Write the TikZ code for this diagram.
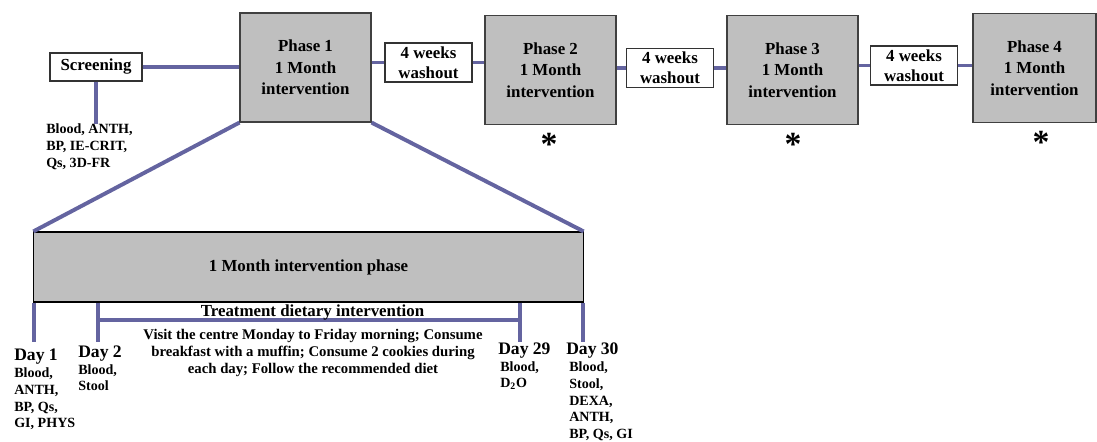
\documentclass[tikz,border=0pt]{standalone}
\usepackage{fontspec}
\setmainfont{Liberation Serif}
\definecolor{linkblue}{RGB}{100,100,160}
\definecolor{phasegray}{RGB}{191,191,191}
\usetikzlibrary{positioning}

\begin{document}
\begin{tikzpicture}[x=0.025cm, y=-0.025cm,
    phase/.style={draw=black!75, line width=0.8pt, fill=phasegray, minimum width=3.275cm, minimum height=2.725cm, align=center, font=\fontsize{12}{15.2}\selectfont\bfseries},
    washout/.style={draw=black!80, line width=0.8pt, fill=white, minimum width=2.175cm, minimum height=0.975cm, inner sep=0pt, align=center, font=\fontsize{12}{14}\selectfont\bfseries},
    link/.style={draw=linkblue, line width=2.8pt},
    note/.style={inner sep=0pt, align=left, font=\fontsize{10}{11.9}\selectfont\bfseries},
    daylab/.style={inner sep=0pt, anchor=base west, font=\fontsize{12.5}{14}\selectfont\bfseries},
    starmark/.style={inner sep=0pt, font=\fontsize{24}{24}\selectfont\bfseries}]
    \useasboundingbox (0,0) rectangle (1097,441);

    % Study timeline
    \node[draw=black!80, line width=0.8pt, minimum width=2.3cm, minimum height=0.7cm, inner sep=0pt, font=\fontsize{12}{14}\selectfont\bfseries] (scr) at (96,67) {Screening};
    \node[note, anchor=north west] (scrnote) at (46,123.5) {Blood, ANTH,\\BP, IE-CRIT,\\Qs, 3D-FR};
    \draw[link] (scr.south) -- (scr.south |- scrnote.north);

    \foreach \n/\x/\y in {1/305.5/67.5, 2/550.5/70, 3/792.5/70} {
        \node[phase] (ph\n) at (\x,\y) {Phase \n\\1 Month\\intervention};
    }
    \node[phase, minimum width=3.075cm] (ph4) at (1034.5,68) {Phase 4\\1 Month\\intervention};

    \foreach \n/\x/\y in {1/428.5/62.5, 2/670/68, 3/914/65.5} {
        \node[washout] (w\n) at (\x,\y) {4 weeks\\washout};
    }

    \draw[link] (scr.east) -- (scr.east -| ph1.west);
    \foreach \a/\b/\c in {ph1/w1/ph2, ph2/w2/ph3, ph3/w3/ph4} {
        \draw[link] (\b.west -| \a.east) -- (\b.west);
        \draw[link] (\b.east) -- (\b.east -| \c.west);
    }

    % Measurement marks
    \foreach \n/\dx in {2/-1.5, 3/0.5, 4/6.5} {
        \node[starmark, below=5.3pt of ph\n, xshift=\dx*0.025cm] (st\n) {*};
    }

    % Zoom on phase 1
    \node[draw, line width=0.8pt, fill=phasegray, minimum width=13.725cm, minimum height=1.75cm, font=\fontsize{12}{14}\selectfont\bfseries] (big) at (308.5,267) {1 Month intervention phase};
    \draw[link] (ph1.south west) -- (big.north west);
    \draw[link] (ph1.south east) -- (big.north east);

    % Day ticks
    \coordinate (t1) at (34,342);
    \coordinate (t2) at (98,342);
    \coordinate (t29) at (520,342);
    \coordinate (t30) at (583,342);
    \foreach \t in {t1,t2,t29,t30} {
        \draw[link] (big.south -| \t) -- (\t);
    }
    \coordinate (m2) at (98,320);
    \coordinate (m29) at (520,320);
    \draw[link] (m2) -- (m29);

    \node[inner sep=0pt, anchor=base, font=\fontsize{12}{14}\selectfont\bfseries] (treat) at (312.5,316) {Treatment dietary intervention};
    \node[inner sep=0pt, anchor=north, align=center, font=\fontsize{10.5}{12.2}\selectfont\bfseries] (visit) at (313,329) {Visit the centre Monday to Friday morning; Consume\\breakfast with a muffin; Consume 2 cookies during\\each day; Follow the recommended diet};

    % Day labels
    \node[daylab] (d1) at (14,360) {Day 1};
    \node[daylab] (d2) at (78,357) {Day 2};
    \node[daylab] (d29) at (498,354) {Day 29};
    \node[daylab] (d30) at (566,354) {Day 30};
    \node[note, anchor=north west] (n1) at (14,367.5) {Blood,\\ANTH,\\BP, Qs,\\GI, PHYS};
    \node[note, anchor=north west] (n2) at (78,364) {Blood,\\Stool};
    \node[note, anchor=north west] (n29) at (500,361) {Blood,\\D\textsubscript{2}O};
    \node[note, anchor=north west] (n30) at (569,361.5) {Blood,\\Stool,\\DEXA,\\ANTH,\\BP, Qs, GI};
\end{tikzpicture}
\end{document}
